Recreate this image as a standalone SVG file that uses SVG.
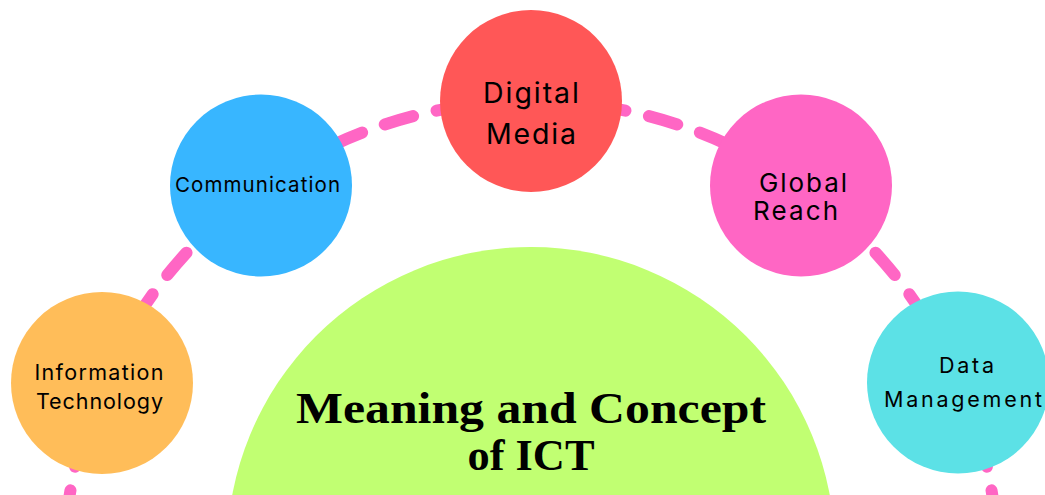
<svg xmlns="http://www.w3.org/2000/svg" width="1045" height="495" viewBox="0 0 1045 495">
<style>
.lbl{font-family:Inter,"Noto Sans","DejaVu Sans",sans-serif;fill:#000;text-anchor:middle}
.title{font-family:"Liberation Serif","DejaVu Serif",serif;font-weight:bold;fill:#000;text-anchor:middle}
.dash{fill:none;stroke:#ff66c4;stroke-width:12;stroke-linecap:round;stroke-dasharray:29.6 24;stroke-dashoffset:41.6}
</style>
<rect width="1045" height="495" fill="#ffffff"/>
<g id="connectors">
<path class="dash" d="M531 101 A467 467 0 0 0 67.6 510"/>
<path class="dash" d="M531 101 A467 467 0 0 1 994.4 510"/>
</g>
<g id="center">
<circle cx="531" cy="551" r="304" fill="#c1ff72"/>
<text class="title" x="531" y="423" font-size="45" textLength="470" lengthAdjust="spacingAndGlyphs">Meaning and Concept</text>
<text class="title" x="531" y="470" font-size="45" textLength="127" lengthAdjust="spacingAndGlyphs">of ICT</text>
</g>
<g id="node-it">
<circle cx="102" cy="383" r="91" fill="#ffbd59"/>
<text class="lbl" x="99" y="380" font-size="21.5" textLength="129">Information</text>
<text class="lbl" x="99.5" y="409" font-size="21.5" textLength="127">Technology</text>
</g>
<g id="node-communication">
<circle cx="261" cy="185.5" r="91" fill="#38b6ff"/>
<text class="lbl" x="257.5" y="192" font-size="20.5" textLength="165">Communication</text>
</g>
<g id="node-digital-media">
<circle cx="531" cy="101" r="91" fill="#ff5757"/>
<text class="lbl" x="531" y="103" font-size="28.5" textLength="96">Digital</text>
<text class="lbl" x="531" y="144" font-size="28.5" textLength="90">Media</text>
</g>
<g id="node-global-reach">
<circle cx="801" cy="185.5" r="91" fill="#ff66c4"/>
<text class="lbl" x="803" y="192" font-size="26" textLength="88">Global</text>
<text class="lbl" x="795.5" y="220" font-size="26" textLength="85">Reach</text>
</g>
<g id="node-data-management">
<circle cx="958" cy="382.5" r="91" fill="#5ce1e6"/>
<text class="lbl" x="966.5" y="373" font-size="21.5" textLength="55">Data</text>
<text class="lbl" x="963" y="407" font-size="21.5" textLength="158">Management</text>
</g>
</svg>
